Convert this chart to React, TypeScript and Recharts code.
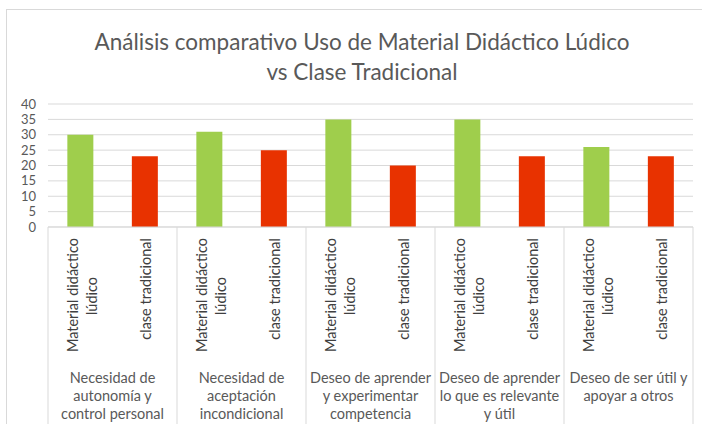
import { BarChart, Bar, Cell, XAxis, YAxis, CartesianGrid } from 'recharts'

const groupLabels = [
  ['Necesidad de', 'autonomía y', 'control personal'],
  ['Necesidad de', 'aceptación', 'incondicional'],
  ['Deseo de aprender', 'y experimentar', 'competencia'],
  ['Deseo de aprender', 'lo que es relevante', 'y útil'],
  ['Deseo de ser útil y', 'apoyar a otros'],
]
const seriesLabels = [['Material didáctico', 'lúdico'], ['clase tradicional']]
const materialValues = [30, 31, 35, 35, 26]
const tradicionalValues = [23, 25, 20, 23, 23]
const yTicks = [0, 5, 10, 15, 20, 25, 30, 35, 40]

const GREEN = '#9fce4c'
const RED = '#e83200'
const GRID = '#d9d9d9'
const TEXT = '#595959'
const FONT = 'Lato, "Open Sans", sans-serif'

const data = groupLabels.flatMap((_, i) => [
  { key: `${i}-m`, group: i, serie: 0, value: materialValues[i] },
  { key: `${i}-t`, group: i, serie: 1, value: tradicionalValues[i] },
])

function CategoryTick(props: any) {
  const { x, y, payload, index } = props
  const row = data[index]
  if (!row) return null
  const half = payload?.offset ?? 32
  const lines = seriesLabels[row.serie]
  const isFirst = row.serie === 0
  const isLast = index === data.length - 1
  return (
    <g>
      {isFirst && <line x1={x - half} x2={x - half} y1={y} y2={y + 210} stroke={GRID} />}
      {isLast && <line x1={x + half} x2={x + half} y1={y} y2={y + 210} stroke={GRID} />}
      <g transform={`translate(${x + (lines.length > 1 ? 2 : 1)},${y + 11}) rotate(-90)`}>
        {lines.map((ln, j) => (
          <text
            key={j}
            x={j === 0 ? 0 : -58}
            y={(j - (lines.length - 1) / 2) * 19}
            textAnchor={j === 0 ? 'end' : 'middle'}
            dominantBaseline="central"
            fontSize={14.5}
            fontFamily={FONT}
            fill="#404040"
          >
            {ln}
          </text>
        ))}
      </g>
      {isFirst &&
        groupLabels[row.group].map((ln, j) => (
          <text
            key={`g${j}`}
            x={x + half}
            y={y + 150 + j * 18}
            textAnchor="middle"
            dominantBaseline="central"
            fontSize={14.5}
            fontFamily={FONT}
            fill={TEXT}
          >
            {ln}
          </text>
        ))}
    </g>
  )
}

export default function App() {
  return (
    <div style={{ position: 'absolute', left: 0, top: 0, width: 702, height: 424, overflow: 'hidden', background: '#fff' }}>
      <div style={{ position: 'absolute', left: 6, top: 9, width: 720, height: 440, border: `1px solid ${GRID}` }} />
      <div
        style={{
          position: 'absolute',
          left: 0,
          top: 27,
          width: 724,
          textAlign: 'center',
          fontFamily: FONT,
          fontSize: 22.5,
          lineHeight: '30px',
          color: TEXT,
        }}
      >
        Análisis comparativo Uso de Material Didáctico Lúdico
        <br />
        vs Clase Tradicional
      </div>
      <div style={{ position: 'absolute', left: 0, top: 0 }}>
        <BarChart
          width={702}
          height={424}
          data={data}
          margin={{ top: 104, right: 9, bottom: 0, left: 8 }}
          barCategoryGap="30%"
        >
          <CartesianGrid vertical={false} stroke={GRID} />
          <XAxis
            dataKey="key"
            height={197}
            interval={0}
            tickLine={false}
            tickSize={0}
            tickMargin={0}
            axisLine={{ stroke: GRID }}
            tick={<CategoryTick />}
          />
          <YAxis
            width={40}
            domain={[0, 40]}
            ticks={yTicks}
            interval={0}
            axisLine={false}
            tickLine={false}
            tickMargin={6}
            tick={{ fill: TEXT, fontSize: 13, fontFamily: FONT }}
          />
          <Bar dataKey="value" isAnimationActive={false}>
            {data.map((d) => (
              <Cell key={d.key} fill={d.serie === 0 ? GREEN : RED} />
            ))}
          </Bar>
        </BarChart>
      </div>
    </div>
  )
}
